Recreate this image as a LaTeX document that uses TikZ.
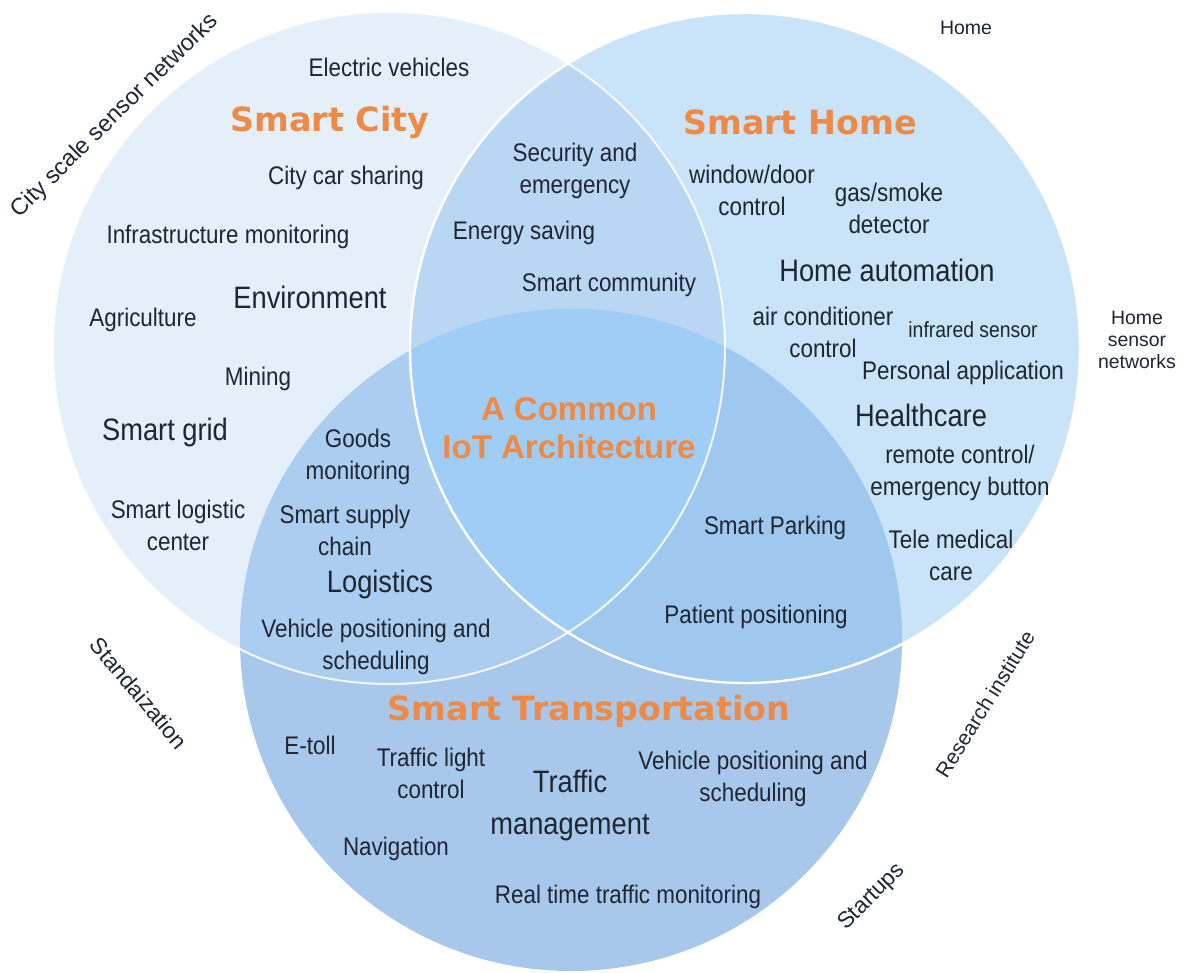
\documentclass[tikz,border=0pt]{standalone}
\usepackage{fontspec}
\setmainfont[FakeStretch=0.88]{Liberation Sans}
\newfontfamily\plainfont{Liberation Sans}
\newfontfamily\titlefont[BoldFont=DejaVu Sans Bold]{DejaVu Sans}
\definecolor{cL}{HTML}{E4EFFA}
\definecolor{cR}{HTML}{C9E3F8}
\definecolor{cB}{HTML}{A8C8EB}
\definecolor{cLR}{HTML}{B9D7F3}
\definecolor{cLB}{HTML}{ABCEF0}
\definecolor{cRB}{HTML}{9FC8EE}
\definecolor{cLRB}{HTML}{A0CDF5}
\definecolor{txt}{HTML}{1F2633}
\definecolor{orng}{HTML}{EE8A45}
\begin{document}
\begin{tikzpicture}[x=0.75pt,y=-0.75pt,
  lbl/.style={text=txt,align=center,inner sep=0pt},
  smalltxt/.style={lbl,font=\fontsize{19.1}{24}\selectfont},
  tinytxt/.style={lbl,font=\fontsize{16.5}{21}\selectfont},
  bigtxt/.style={lbl,font=\fontsize{23.25}{31.5}\selectfont},
  titletxt/.style={lbl,text=orng,font=\titlefont\bfseries\fontsize{25}{30}\selectfont},
  centertxt/.style={lbl,text=orng,font=\plainfont\bfseries\fontsize{24.75}{29}\selectfont},
  sidetxt/.style={lbl,font=\plainfont\fontsize{14.6}{16.5}\selectfont},
  rottxt/.style={lbl,font=\plainfont\fontsize{17}{20}\selectfont}]
\useasboundingbox (0,0) rectangle (1183,973);
\fill[white] (0,0) rectangle (1183,973);
\coordinate (L) at (389,348);
\coordinate (R) at (745,348);
\coordinate (B) at (571,640);
% base circles
\fill[cL] (L) circle (336);
\fill[cR] (R) circle (335);
\fill[cB] (B) circle (331);
% pairwise overlaps
\begin{scope}
  \clip (L) circle (336);
  \fill[cLR] (R) circle (335);
  \fill[cLB] (B) circle (331);
\end{scope}
\begin{scope}
  \clip (R) circle (335);
  \fill[cRB] (B) circle (331);
  \clip (L) circle (336);
  \fill[cLRB] (B) circle (331);
\end{scope}
% white outlines
\draw[white,line width=1.8pt] (R) circle (335);
\draw[white,line width=1.5pt,opacity=0.85] (L) circle (336);

% Smart City
\node[smalltxt] (ev) at (389,67) {Electric vehicles};
\node[titletxt] (sc) at (330,122) {Smart City};
\node[smalltxt] (ccs) at (346,178) {City car sharing};
\node[smalltxt] (inf) at (228,237) {Infrastructure monitoring};
\node[bigtxt] (env) at (310,297) {Environment};
\node[smalltxt] (agr) at (143,320) {Agriculture};
\node[smalltxt] (min) at (258,379) {Mining};
\node[bigtxt] (sg) at (165,432) {Smart grid};
\node[smalltxt] (slc) at (178,525) {Smart logistic\\center};
% City/Transport overlap
\node[smalltxt] (gm) at (358,457) {Goods\\monitoring};
\node[smalltxt] (ssc) at (345,530) {Smart supply\\chain};
\node[bigtxt] (log) at (380,584) {Logistics};
\node[smalltxt] (vps1) at (376,647) {Vehicle positioning and\\scheduling};
% City/Home overlap
\node[smalltxt] (sec) at (575,171) {Security and\\emergency};
\node[smalltxt] (es) at (524,233) {Energy saving};
\node[smalltxt] (scom) at (609,285) {Smart community};
% center
\node[centertxt] (ciot) at (569,428) {A Common\\IoT Architecture};
% Smart Home
\node[titletxt] (sh) at (800,122) {Smart Home};
\node[smalltxt] (wdc) at (752,190) {window/door\\control};
\node[smalltxt] (gsd) at (889,208) {gas/smoke\\detector};
\node[bigtxt] (ha) at (887,270) {Home automation};
\node[smalltxt] (acc) at (823,332) {air conditioner\\control};
\node[tinytxt] (irs) at (973,330) {infrared sensor};
\node[smalltxt] (pa) at (963,373) {Personal application};
\node[bigtxt] (hc) at (921,415) {Healthcare};
\node[smalltxt] (rce) at (960,473) {remote control/\\emergency button};
\node[smalltxt] (tmc) at (951,555) {Tele medical\\care};
% Home/Transport overlap
\node[smalltxt] (sp) at (775,528) {Smart Parking};
\node[smalltxt] (pp) at (756,617) {Patient positioning};
% Smart Transportation
\node[titletxt] (st) at (589,711) {Smart Transportation};
\node[smalltxt] (et) at (310,745) {E-toll};
\node[smalltxt] (tlc) at (431,773) {Traffic light\\control};
\node[bigtxt] (tm) at (570,805) {Traffic\\management};
\node[smalltxt] (vps2) at (753,779) {Vehicle positioning and\\scheduling};
\node[smalltxt] (nav) at (396,849) {Navigation};
\node[smalltxt] (rtt) at (628,897) {Real time traffic monitoring};
% outside labels
\node[sidetxt] (home) at (966,28) {Home};
\node[sidetxt] (hsn) at (1137,340) {Home\\sensor\\networks};
\node[rottxt,rotate=44.5,font=\plainfont\fontsize{17.6}{20}\selectfont] (cssn) at (115,116) {City scale sensor networks};
\node[rottxt,rotate=-50] (std) at (139,693) {Standaization};
\node[rottxt,rotate=58,font=\plainfont\fontsize{15.7}{19}\selectfont] (ri) at (985,704) {Research institute};
\node[rottxt,rotate=45] (su) at (872,897) {Startups};
\end{tikzpicture}
\end{document}
